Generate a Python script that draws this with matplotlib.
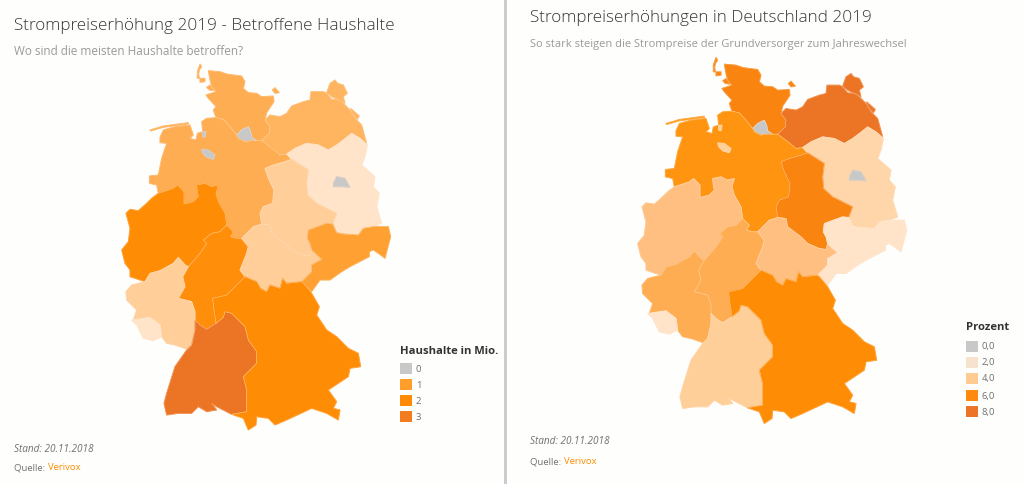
import matplotlib
matplotlib.use("Agg")
import matplotlib.pyplot as plt
from matplotlib.colors import LinearSegmentedColormap, Normalize
from matplotlib.patches import Polygon, Rectangle
from matplotlib.transforms import Affine2D

plt.rcParams['font.family'] = ['Open Sans', 'DejaVu Sans']

# ---- values per state ----
STATES = ["SH", "HH", "MV", "NI", "HB", "BB", "BE", "ST", "NW", "HE", "TH", "SN", "RP", "SL", "BW", "BY"]
HAUSHALTE = [1.2, 0, 1.1, 1.2, 0, 0.3, 0, 0.7, 2.0, 1.95, 0.7, 1.5, 0.7, 0.3, 3.0, 2.0]
PROZENT = [7.0, 0, 8.0, 6.5, 4.0, 3.5, 0, 7.0, 4.5, 5.0, 4.5, 2.0, 5.0, 2.0, 4.0, 6.0]

LEFT_TITLE = "Strompreiserhöhung 2019 - Betroffene Haushalte"
LEFT_SUB = "Wo sind die meisten Haushalte betroffen?"
RIGHT_TITLE = "Strompreiserhöhungen in Deutschland 2019"
RIGHT_SUB = "So stark steigen die Strompreise der Grundversorger zum Jahreswechsel"
LEFT_LEGEND = ["0", "1", "2", "3"]
RIGHT_LEGEND = ["0,0", "2,0", "4,0", "6,0", "8,0"]
LEFT_SWATCH = ["#C8C8C8", "#FF9E2A", "#FF8A05", "#F27C1E"]
RIGHT_SWATCH = ["#C8C8C8", "#F5E3CE", "#FFCB92", "#FF8A0F", "#EC7328"]

LEFT_STOPS = [(0.3, "#FFE4C9"), (0.7, "#FFCE99"), (1.2, "#FFAD52"), (1.5, "#FFA033"), (2.0, "#FF8C05"), (3.0, "#EC7425")]
RIGHT_STOPS = [(2.0, "#FFE4C9"), (3.5, "#FFD6AA"), (4.0, "#FFCF99"), (4.5, "#FFBF80"), (5.0, "#FFAD52"),
               (6.0, "#FF8C05"), (6.5, "#FF9410"), (7.0, "#F98410"), (8.0, "#EC7425")]

# ---- map outlines, one tracing space for both maps ----
SHAPES = {
    "SH": [[(295,62),(330,65),(350,72),(370,75),(395,78),(405,95),(400,115),(415,128),(440,130),(455,140),(490,138),(492,155),(470,188),(465,210),(480,230),(478,250),(455,272),(440,272),(425,262),(422,245),(415,230),(395,240),(380,255),(360,230),(340,208),(318,203),(310,180),(318,170),(295,145),(288,135),(318,125),(305,110),(300,90)],
           [(487,120),(495,113),(508,128),(495,130)], [(270,42),(275,50),(268,60),(266,72),(268,85),(262,85),(262,65)],
           [(270,85),(285,85),(285,95),(270,97)], [(290,112),(300,105),(312,122),(298,120)]],
    "HH": [[(380,255),(395,240),(415,230),(422,245),(425,262),(440,272),(425,272),(405,275),(385,265)]],
    "MV": [[(465,210),(480,195),(510,200),(530,190),(545,168),(580,155),(600,150),(603,125),(640,125),(650,130),(665,148),(690,150),(705,165),(725,185),(735,205),(755,225),(770,280),(750,265),(725,250),(700,270),(680,285),(655,300),(625,285),(590,280),(555,295),(530,312),(510,315),(490,298),(455,272),(478,250),(480,230)],
           [(650,128),(660,100),(675,90),(683,100),(700,105),(712,130),(700,140),(705,160),(685,150),(665,140)],
           [(722,175),(748,198),(742,208),(725,190)]],
    "NI": [[(150,262),(160,240),(195,230),(240,225),(250,255),(240,265),(258,270),(262,250),(278,245),(275,215),(290,205),(318,203),(340,208),(360,230),(380,255),(385,265),(405,275),(425,272),(440,272),(455,272),(490,298),(510,315),(530,312),(545,328),(525,335),(490,345),(465,355),(475,385),(492,420),(488,460),(460,470),(450,490),(455,522),(430,530),(395,565),(380,565),(362,560),(370,545),(350,525),(345,490),(325,455),(318,430),(325,405),(305,410),(285,400),(260,405),(262,425),(265,440),(250,455),(222,462),(222,425),(203,405),(190,415),(145,430),(140,405),(118,400),(118,378),(145,375),(155,325),(170,280),(150,278)],
           [(120,240),(160,228),(235,218),(235,222),(160,232),(122,243)]],
    "HB": [[(275,298),(295,300),(315,315),(310,328),(290,322),(278,310)], [(278,245),(288,245),(285,262),(278,260)]],
    "BB": [[(530,312),(555,295),(590,280),(625,285),(655,300),(680,285),(700,270),(725,250),(750,265),(772,285),(765,320),(755,345),(795,380),(790,410),(808,430),(800,470),(815,520),(790,530),(760,535),(745,555),(700,552),(680,548),(668,522),(680,490),(620,460),(593,435),(590,400),(595,360),(580,350),(545,328)]],
    "BE": [[(670,400),(680,380),(705,385),(720,412),(695,410),(670,410)]],
    "ST": [[(465,355),(490,345),(525,335),(545,328),(580,350),(595,360),(590,400),(593,435),(620,460),(680,490),(668,522),(650,520),(595,540),(592,565),(600,580),(605,600),(600,618),(580,615),(545,600),(525,580),(485,550),(480,525),(455,522),(450,490),(460,470),(488,460),(492,420),(475,385)]],
    "NW": [[(145,430),(190,415),(203,405),(222,425),(222,462),(250,455),(265,440),(262,425),(260,405),(285,400),(305,410),(325,405),(318,430),(325,455),(345,490),(350,525),(345,530),(330,545),(305,550),(280,570),(290,580),(270,610),(235,650),(225,645),(205,622),(190,640),(150,662),(120,670),(105,695),(60,680),(60,660),(45,640),(35,600),(55,575),(60,535),(48,490),(60,478),(85,482),(110,460),(125,445)]],
    "HE": [[(350,525),(370,545),(362,560),(380,565),(395,565),(415,590),(410,610),(390,660),(405,680),(380,705),(350,735),(308,745),(312,780),(318,820),(290,838),(270,825),(255,810),(255,785),(245,755),(205,745),(225,710),(218,680),(235,650),(270,610),(290,580),(280,570),(305,550),(330,545),(345,530)]],
    "TH": [[(395,565),(430,530),(455,522),(480,525),(485,550),(525,580),(545,600),(580,615),(600,618),(605,600),(635,628),(605,645),(605,665),(575,695),(530,700),(518,685),(510,715),(480,705),(470,725),(452,715),(440,695),(405,680),(390,660),(410,610),(415,590)]],
    "SN": [[(595,540),(650,520),(668,522),(680,548),(700,552),(745,555),(760,535),(790,530),(835,530),(842,560),(825,625),(805,610),(790,600),(778,605),(778,620),(720,650),(695,665),(660,690),(630,690),(605,725),(585,705),(575,695),(605,665),(605,645),(635,628),(605,600),(600,580),(592,565)]],
    "RP": [[(205,622),(225,645),(235,650),(218,680),(225,710),(205,745),(245,755),(255,785),(255,810),(255,840),(245,885),(232,898),(195,885),(170,880),(155,860),(150,825),(120,802),(70,810),(80,780),(50,750),(48,725),(65,705),(105,695),(120,670),(150,662),(190,640)]],
    "SL": [[(65,810),(120,802),(150,825),(155,860),(130,872),(100,865),(80,825)]],
    "BW": [[(255,810),(270,825),(290,838),(318,820),(340,802),(345,785),(365,790),(385,810),(405,830),(415,870),(440,905),(440,940),(400,980),(410,1020),(410,1085),(365,1093),(320,1070),(305,1060),(320,1080),(290,1085),(265,1070),(245,1090),(205,1090),(170,1095),(162,1060),(170,1030),(195,950),(230,900),(245,885),(255,840)]],
    "BY": [[(405,680),(440,695),(452,715),(470,725),(480,705),(510,715),(518,685),(530,700),(575,695),(585,705),(605,730),(628,770),(620,795),(650,840),(680,860),(715,895),(745,910),(752,950),(720,955),(715,980),(655,1020),(680,1055),(670,1075),(690,1080),(685,1110),(650,1090),(605,1075),(530,1110),(495,1125),(475,1105),(440,1100),(438,1125),(415,1140),(400,1105),(365,1093),(410,1085),(410,1020),(400,980),(440,940),(440,905),(415,870),(405,830),(385,810),(365,790),(345,785),(340,802),(318,820),(312,780),(308,745),(350,735),(380,705)]],
}

def make_cmap(stops):
    lo, hi = stops[0][0], stops[-1][0]
    cmap = LinearSegmentedColormap.from_list("m", [((v - lo) / (hi - lo), c) for v, c in stops], N=1024)
    return cmap, Normalize(lo, hi)

fig = plt.figure(figsize=(10.24, 4.84), dpi=100, facecolor="#FEFEFC")
ax = fig.add_axes([0, 0, 1, 1])
ax.set_xlim(0, 1024)
ax.set_ylim(484, 0)
ax.axis("off")

def draw_map(values, stops, dx, dy):
    cmap, norm = make_cmap(stops)
    tr = Affine2D().scale(1 / 3).translate(110 + dx, 50 + dy) + ax.transData
    for st, v in zip(STATES, values):
        col = "#C8C8C8" if v == 0 else cmap(norm(v))
        for ring in SHAPES[st]:
            ax.add_patch(Polygon(ring, closed=True, facecolor=col, edgecolor=col,
                                 linewidth=0.7, transform=tr, joinstyle="round"))
    for st in STATES:
        for ring in SHAPES[st]:
            ax.add_patch(Polygon(ring, closed=True, facecolor="none", edgecolor=(1, 0.9, 0.8, 0.4),
                                 linewidth=0.4, transform=tr, joinstyle="round"))

draw_map(HAUSHALTE, LEFT_STOPS, 0, 0)
draw_map(PROZENT, RIGHT_STOPS, 516, -6.5)

ax.add_patch(Rectangle((504, 0), 3, 484, facecolor="#CCCCCC", edgecolor="none"))

def panel(x, ty, sy, title, sub, subsize, st_y, q_y):
    ax.text(x, ty, title, fontsize=12.3, color="#383838", va="center", fontweight="light")
    ax.text(x, sy, sub, fontsize=subsize, color="#9A9A9A", va="center")
    ax.text(x, st_y, "Stand: 20.11.2018", fontsize=7.2, color="#707070", style="italic", va="center")
    t = ax.text(x, q_y, "Quelle: ", fontsize=6.8, color="#707070", va="center")
    ax.annotate("Verivox", xycoords=t, xy=(1, 0.5), va="center", fontsize=6.8, color="#FF8C00")

panel(14, 26.5, 51.5, LEFT_TITLE, LEFT_SUB, 8.5, 449, 468)
panel(530, 18.5, 44.5, RIGHT_TITLE, RIGHT_SUB, 8.05, 442, 462)

def legend(x, ty, ys, labels, swatches, title):
    ax.text(x, ty, title, fontsize=8.1, fontweight="bold", color="#333333", va="center")
    for y, lab, c in zip(ys, labels, swatches):
        ax.add_patch(Rectangle((x, y - 5.5), 11.5, 11, facecolor=c, edgecolor="none"))
        ax.text(x + 16, y + 1, lab, fontsize=6.8, color="#707070", va="center")

legend(400, 351, [368, 384, 400, 416], LEFT_LEGEND, LEFT_SWATCH, "Haushalte in Mio.")
legend(966, 328, [346, 362, 378, 395, 411], RIGHT_LEGEND, RIGHT_SWATCH, "Prozent")

fig.savefig("out.png", dpi=100, facecolor=fig.get_facecolor())
